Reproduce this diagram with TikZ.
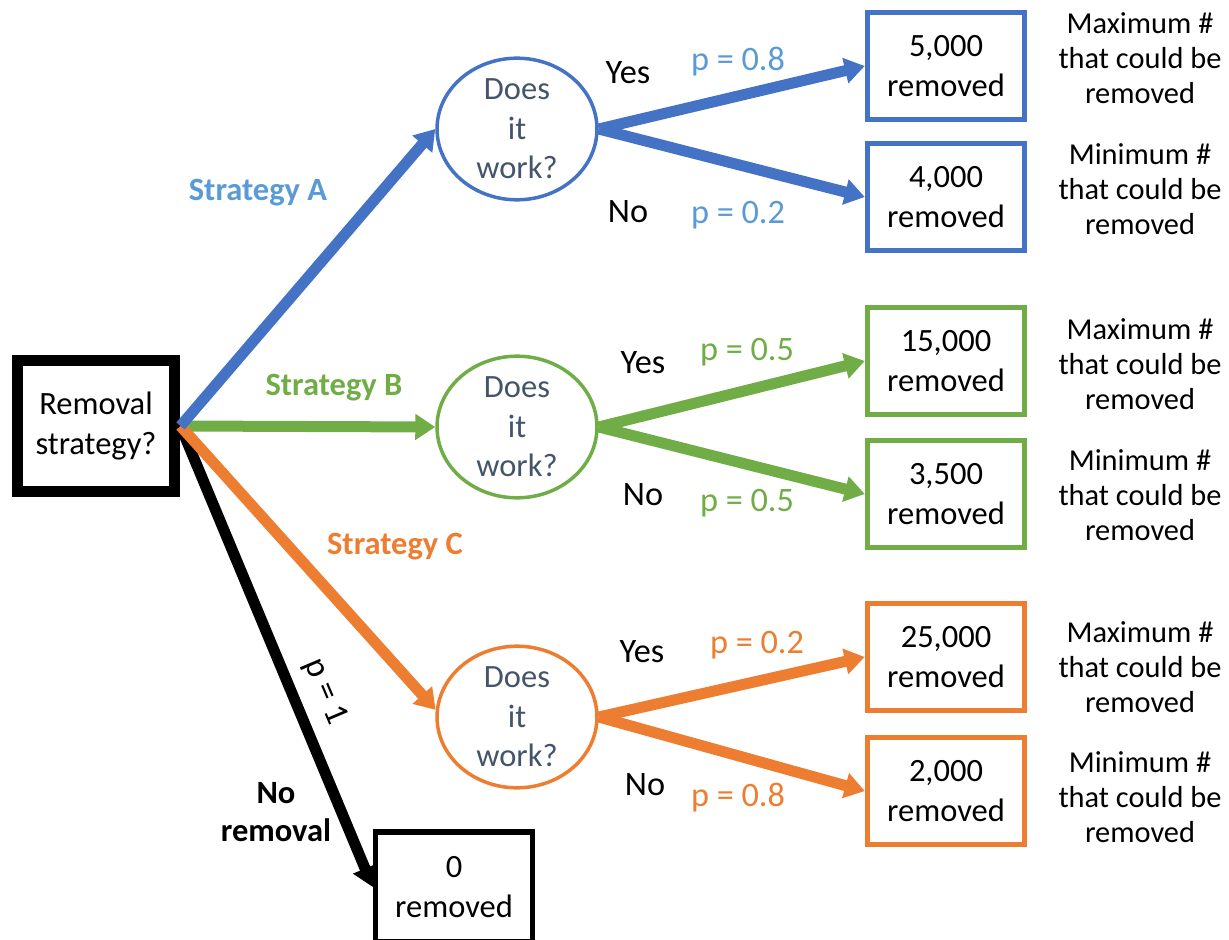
\documentclass[tikz,border=0pt]{standalone}
\usepackage{fontspec}
\setmainfont{Carlito}
\usetikzlibrary{arrows.meta}
\usetikzlibrary{shapes.geometric}
\usepackage{xcolor}
\definecolor{stratA}{HTML}{4472C4}
\definecolor{stratAlight}{HTML}{5B9BD5}
\definecolor{stratB}{HTML}{70AD47}
\definecolor{stratC}{HTML}{ED7D31}
\definecolor{asktext}{HTML}{44546A}

\begin{document}
\begin{tikzpicture}[x=0.02cm, y=-0.02cm,
        every node/.style={font=\fontsize{18.5}{22.5}\selectfont, align=center},
        outcome/.style={draw, rectangle, line width=0.11cm, minimum width=3.14cm, minimum height=2.14cm, inner sep=0pt},
        ask/.style={draw, ellipse, line width=0.07cm, minimum width=3.2cm, minimum height=2.78cm, inner sep=0pt, text=asktext},
        branch/.style={line width=0.22cm, -{Triangle[length=0.4cm, width=0.5cm]}},
        answer/.style={font=\fontsize{19.5}{23}\selectfont},
        note/.style={font=\fontsize{17.3}{20}\selectfont},
        strat/.style={font=\fontsize{18.5}{22}\selectfont\bfseries}]
        \useasboundingbox (0,0) rectangle (1229,939);

        % root
        \node[draw, rectangle, line width=0.22cm, minimum width=3.16cm, minimum height=2.64cm, inner sep=0pt] (root) at (96,426) {Removal\\strategy?};

        % chance nodes
        \node[ask, draw=stratA] (askA) at (517,129) {Does\\it\\work?};
        \node[ask, draw=stratB] (askB) at (517,427) {Does\\it\\work?};
        \node[ask, draw=stratC] (askC) at (517,717) {Does\\it\\work?};

        % end boxes
        \node[outcome, draw=stratA] (maxA) at (946,66) {5,000\\removed};
        \node[outcome, draw=stratA] (minA) at (946,197) {4,000\\removed};
        \node[outcome, draw=stratB] (maxB) at (946,361) {15,000\\removed};
        \node[outcome, draw=stratB] (minB) at (946,494) {3,500\\removed};
        \node[outcome, draw=stratC] (maxC) at (946,657) {25,000\\removed};
        \node[outcome, draw=stratC] (minC) at (946,791) {2,000\\removed};
        \node[outcome, draw=black, minimum height=2.2cm] (zero) at (454,887) {0\\removed};

        % branches from the root
        \draw[branch, black] (root.east) -- (zero.west);
        \draw[branch, stratB] (root.east) -- (askB.west);
        \draw[branch, stratC] (root.east) -- (askC.175);
        \draw[branch, stratA] (root.east) -- (askA.west);

        \node[strat, text=stratAlight] (labA) at (258,193) {Strategy A};
        \node[strat, text=stratB] (labB) at (334,388) {Strategy B};
        \node[strat, text=stratC] (labC) at (395,547) {Strategy C};
        \node[strat, text=black] (labN) at (276,812) {No\\removal};
        \node[answer, rotate=-67] (pN) at (325,692) {p = 1};

        % branches from the chance nodes
        \draw[branch, stratA] (askA.east) -- (maxA.west);
        \draw[branch, stratA] (askA.east) -- (minA.west);
        \draw[branch, stratB] (askB.east) -- (maxB.west);
        \draw[branch, stratB] (askB.east) -- (minB.west);
        \draw[branch, stratC] (askC.east) -- (maxC.west);
        \draw[branch, stratC] (askC.east) -- (minC.west);

        \node[answer] (yesA) at (628,73) {Yes};
        \node[answer] (noA) at (628,212) {No};
        \node[answer, text=stratAlight] (pyA) at (738,62) {p = 0.8};
        \node[answer, text=stratAlight] (pnA) at (738,215) {p = 0.2};
        \node[answer] (yesB) at (643,363) {Yes};
        \node[answer] (noB) at (643,495) {No};
        \node[answer, text=stratB] (pyB) at (747,352) {p = 0.5};
        \node[answer, text=stratB] (pnB) at (747,503) {p = 0.5};
        \node[answer] (yesC) at (642,652) {Yes};
        \node[answer] (noC) at (645,785) {No};
        \node[answer, text=stratC] (pyC) at (757,645) {p = 0.2};
        \node[answer, text=stratC] (pnC) at (738,798) {p = 0.8};

        % notes
        \node[note] (nmaxA) at (1140,58) {Maximum \#\\that could be\\removed};
        \node[note] (nminA) at (1140,189) {Minimum \#\\that could be\\removed};
        \node[note] (nmaxB) at (1140,364) {Maximum \#\\that could be\\removed};
        \node[note] (nminB) at (1140,495) {Minimum \#\\that could be\\removed};
        \node[note] (nmaxC) at (1140,667) {Maximum \#\\that could be\\removed};
        \node[note] (nminC) at (1140,797) {Minimum \#\\that could be\\removed};
    \end{tikzpicture}
\end{document}
